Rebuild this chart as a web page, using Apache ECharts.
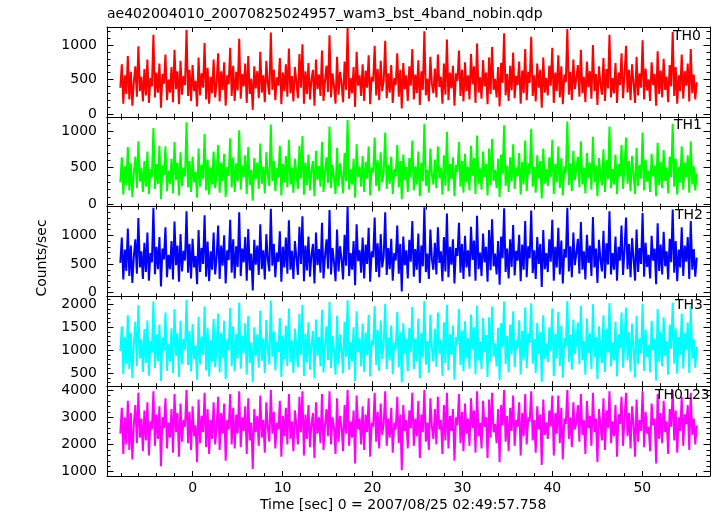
<!DOCTYPE html>
<html><head><meta charset="utf-8">
<script src="https://cdn.jsdelivr.net/npm/echarts@6/dist/echarts.min.js"></script>
<style>html,body{margin:0;padding:0;background:#fff}#c{width:717px;height:516px}</style>
</head><body><div id="c"></div><script>
// ---------- data ----------
const chartTitle = 'ae402004010_20070825024957_wam3_bst_4band_nobin.qdp';
const xTitle = 'Time [sec] 0 = 2007/08/25 02:49:57.758';
const yTitle = 'Counts/sec';
const panelNames = ['TH0', 'TH1', 'TH2', 'TH3', 'TH0123'];
const panelColors = ['#ff0000', '#00ff00', '#0000ff', '#00ffff', '#ff00ff'];
const timeStart = -8.05;
const timeEnd = 56.06;

const th0 = [
380,720,150,560,290,840,210,610,120,470,690,250,980,330,540,180,
650,270,790,160,520,400,1150,240,600,310,730,90,580,440,860,200,
500,310,680,170,930,360,620,140,770,280,550,420,1220,260,640,190,
710,330,480,110,820,270,590,380,1030,210,670,150,540,300,790,240,
460,880,180,620,350,750,120,560,430,960,260,700,190,610,340,1090,
220,580,400,730,160,840,290,510,60,690,370,620,230,900,310,560,
170,770,440,280,1180,350,640,200,530,410,810,140,600,330,720,250,
950,300,550,180,680,460,230,870,380,1010,150,620,290,740,210,500,
640,120,790,360,570,260,920,190,480,700,320,1140,240,590,400,150,
830,280,610,440,170,760,350,1250,220,520,300,680,100,900,410,560,
260,720,190,630,380,850,140,540,470,990,270,650,200,770,330,480,
1060,230,590,310,710,160,520,420,880,250,640,80,740,360,560,190,
690,410,940,210,570,300,780,130,620,350,1200,270,510,180,830,440,
300,660,240,860,390,540,150,730,280,1080,200,600,370,700,120,590,
480,920,260,640,180,750,330,560,210,870,430,690,160,1020,310,530,
220,780,400,600,140,820,290,970,350,510,240,680,110,740,450,1170,
270,580,190,700,340,890,230,550,420,760,150,630,300,940,200,610,
450,1120,260,560,180,730,380,640,90,820,310,520,270,700,410,960,
160,600,330,850,240,690,140,570,460,1230,280,610,200,790,360,520,
710,250,930,300,540,170,760,390,620,220,1000,330,580,130,690,440,
280,810,190,650,370,1150,240,520,300,740,160,600,420,880,230,570,
990,310,640,200,720,450,160,830,270,590,380,1070,210,660,340,500,
190,750,420,580,120,910,290,630,240,800,350,540,170,710,400,1190,
260,680,150,560,330,860,220,620,410,730,180,940,300,570,210,460];

const th1 = [
300,640,130,520,260,780,190,560,100,430,650,220,860,310,490,170,
590,240,720,140,480,370,1040,210,550,280,800,70,530,400,790,180,
460,280,620,150,850,330,570,120,710,250,500,380,1120,230,590,170,
650,300,440,90,760,240,540,350,960,190,610,130,500,270,720,220,
420,810,160,570,320,690,100,510,390,900,230,640,170,560,310,1010,
200,530,370,670,140,780,260,470,50,630,340,570,210,830,280,510,
150,710,400,250,1090,320,590,180,490,370,800,120,550,300,660,230,
880,270,500,160,620,420,210,800,350,930,130,570,260,680,190,460,
590,110,730,330,520,240,850,170,440,640,290,1060,220,540,360,140,
770,250,560,400,150,700,320,1150,200,480,270,620,90,820,370,510,
240,660,170,580,350,790,120,500,430,910,250,600,180,710,300,440,
980,210,540,280,650,140,480,380,810,230,590,70,680,330,510,170,
630,370,870,190,520,270,720,110,570,320,1100,250,470,160,760,400,
270,610,220,790,360,500,130,670,250,990,180,550,340,640,110,540,
440,850,240,590,160,690,300,510,190,800,390,630,140,940,280,490,
200,720,370,550,120,760,260,890,320,470,220,620,100,680,410,1080,
250,530,170,640,310,820,210,500,380,700,130,580,270,870,180,560,
410,1030,240,510,160,670,350,590,80,760,280,480,250,640,370,880,
140,550,300,790,220,630,120,520,420,1130,260,560,180,730,330,480,
650,230,860,270,500,150,700,360,570,200,920,300,530,110,630,400,
260,750,170,600,340,1060,220,480,270,680,140,550,380,810,210,520,
910,280,590,180,660,410,140,770,250,540,350,980,190,610,310,460,
170,690,380,530,110,840,260,580,220,740,320,500,150,650,370,1100,
240,620,130,510,300,790,200,570,370,670,160,860,270,520,190,420];

const th2 = [
520,960,230,750,380,1120,290,820,170,640,930,330,1300,440,720,240,
870,360,1050,210,690,530,1480,320,800,410,970,110,770,580,1140,270,
660,410,900,230,1240,480,820,190,1020,370,730,560,1420,350,850,250,
940,440,640,150,1090,360,780,500,1350,280,890,200,720,400,1050,320,
610,1170,240,820,470,1000,160,740,570,1270,350,930,250,810,450,1400,
290,770,530,970,210,1110,390,680,40,920,490,820,310,1190,410,740,
230,1020,580,370,1460,470,850,270,700,540,1070,190,800,440,960,330,
1260,400,730,240,900,610,310,1150,500,1330,200,820,390,980,280,660,
850,160,1050,480,760,350,1220,250,640,930,420,1440,320,780,530,200,
1100,370,810,580,230,1010,470,1500,290,690,400,900,130,1190,550,740,
350,960,250,840,500,1130,190,720,620,1310,360,860,270,1020,440,640,
1400,310,780,410,940,210,690,560,1170,330,850,20,980,480,740,250,
920,540,1250,280,760,400,1030,170,820,460,1490,360,680,240,1100,580,
400,870,320,1140,520,720,200,970,370,1380,270,800,490,930,160,780,
640,1220,350,850,240,990,440,740,280,1150,570,910,210,1340,410,700,
290,1030,530,800,190,1090,390,1280,460,680,320,900,140,980,600,1470,
360,770,250,930,450,1180,300,730,560,1010,200,840,400,1250,270,810,
600,1430,340,740,240,970,500,850,100,1090,410,690,360,930,540,1270,
210,800,440,1130,320,910,160,760,610,1480,370,810,270,1050,480,690,
940,330,1230,400,720,230,1010,520,820,290,1320,440,770,170,920,580,
370,1080,250,860,490,1420,320,690,400,980,210,800,560,1170,310,760,
1310,410,850,270,950,600,210,1100,360,780,500,1390,280,870,450,660,
250,990,560,770,150,1210,380,840,320,1060,460,720,230,940,530,1450,
350,900,200,750,440,1140,290,820,540,970,240,1250,400,760,280,610];

const th3 = [
980,1520,480,1290,700,1760,590,1380,400,1150,1620,660,1980,820,1240,530,
1460,720,1650,450,1200,950,2060,610,1350,760,1560,330,1280,990,1820,550,
1130,760,1480,500,1900,880,1370,420,1640,700,1250,1010,2100,680,1420,540,
1570,800,1110,360,1730,690,1300,900,1950,560,1480,430,1220,750,1680,630,
1060,1800,520,1380,830,1640,370,1240,1000,1920,650,1520,540,1360,820,2040,
600,1310,940,1590,470,1750,720,1170,300,1500,880,1350,620,1860,770,1260,
500,1660,1010,690,2080,860,1410,560,1190,960,1700,420,1320,800,1540,660,
1910,740,1220,510,1470,1100,630,1790,900,1990,440,1360,730,1610,580,1110,
1420,390,1670,870,1290,650,1880,520,1100,1520,790,2050,610,1310,980,470,
1750,690,1340,1030,500,1620,860,2090,580,1180,760,1500,330,1850,960,1260,
650,1580,530,1390,890,1770,430,1210,1120,1960,680,1440,550,1650,810,1140,
2010,590,1280,780,1540,480,1170,1020,1830,630,1390,300,1590,920,1250,540,
1490,970,1940,590,1260,760,1690,390,1380,850,2070,690,1200,510,1770,1050,
750,1470,640,1820,930,1240,450,1610,720,1990,560,1350,900,1540,360,1290,
1120,1900,680,1430,540,1630,830,1270,600,1780,1020,1500,480,1970,780,1190,
590,1700,960,1330,420,1720,750,1950,860,1150,650,1490,350,1590,1070,2060,
700,1310,520,1560,910,1850,630,1220,1040,1650,470,1420,780,1930,610,1370,
1160,2020,710,1240,500,1600,920,1400,310,1760,810,1150,740,1500,990,1910,
440,1360,830,1840,660,1540,400,1270,1080,2070,740,1330,580,1670,920,1180,
1610,690,1970,790,1200,470,1690,940,1370,590,2000,850,1290,370,1520,1010,
720,1760,530,1470,950,2030,650,1170,780,1620,430,1340,1040,1820,620,1230,
1930,780,1390,540,1580,1060,410,1750,700,1260,930,2010,550,1450,850,1120,
520,1640,1000,1250,340,1900,750,1410,650,1720,880,1200,470,1560,1030,2040,
710,1480,490,1290,900,1800,600,1380,1010,1610,510,1960,820,1240,620,1070];

const th0123 = [
2400,3350,1650,3000,2000,3600,1800,3150,1450,2750,3450,2050,3900,2250,2950,1750,
3250,2150,3550,1600,2850,2550,3950,1950,3100,2200,3400,1200,3000,2600,3700,1850,
2800,2250,3300,1700,3850,2450,3150,1550,3500,2100,2900,2650,4000,2050,3200,1800,
3400,2300,2700,1350,3650,2050,3050,2450,3900,1900,3300,1650,2900,2200,3550,2000,
2650,3750,1800,3150,2400,3500,1400,2900,2550,3850,2000,3350,1850,3100,2400,3950,
1900,3000,2500,3400,1650,3700,2150,2800,1100,3300,2450,3050,1950,3800,2250,2900,
1700,3550,2600,2100,4000,2400,3200,1850,2800,2550,3600,1550,3050,2300,3350,2000,
3850,2200,2850,1750,3250,2700,2000,3750,2450,3950,1600,3100,2200,3450,1900,2750,
3150,1500,3550,2400,3000,2050,3850,1800,2700,3300,2300,3950,2000,3000,2600,1650,
3700,2100,3050,2650,1750,3450,2400,4000,1950,2850,2250,3250,1300,3800,2550,2950,
2000,3400,1800,3100,2450,3700,1550,2800,2650,3900,2100,3200,1850,3500,2350,2750,
3950,1950,2950,2250,3350,1700,2800,2550,3750,2050,3100,1050,3450,2500,2900,1850,
3250,2600,3900,1950,2950,2300,3600,1500,3100,2450,4000,2100,2800,1800,3700,2650,
2200,3300,2000,3750,2550,2900,1650,3450,2150,3900,1850,3050,2500,3300,1400,3000,
2700,3850,2050,3200,1750,3500,2400,2950,1950,3700,2600,3250,1700,3950,2300,2800,
1850,3600,2650,3000,1500,3650,2250,3900,2450,2750,2050,3300,1350,3450,2700,4000,
2100,3050,1750,3350,2500,3800,1950,2900,2650,3550,1600,3150,2300,3850,2000,3000,
2850,3950,2150,2900,1700,3400,2550,3100,1250,3650,2350,2800,2200,3250,2650,3800,
1600,3150,2400,3800,2050,3350,1450,2950,2750,4000,2200,3000,1900,3550,2550,2800,
3450,2100,3850,2350,2900,1650,3600,2600,3050,1950,3900,2450,2950,1350,3300,2700,
2150,3700,1800,3250,2600,3950,2050,2850,2300,3450,1550,3100,2750,3750,1950,2950,
3900,2300,3150,1850,3400,2750,1550,3650,2100,2900,2500,3950,1900,3200,2400,2650,
1750,3500,2700,2950,1300,3850,2200,3150,2050,3600,2450,2850,1650,3300,2650,4000,
2150,3250,1700,3000,2500,3750,1950,3100,2750,3450,1800,3900,2350,2950,2000,2700];

const xMajorTicks = [0, 10, 20, 30, 40, 50];
const yMajorTicks = [
  [0, 500, 1000],
  [0, 500, 1000],
  [0, 500, 1000],
  [500, 1000, 1500, 2000],
  [1000, 2000, 3000, 4000]
];
const yMinorStep = [100, 100, 100, 100, 200];

// ---------- layout ----------
const FONT = 'DejaVu Sans';
const gridLeft = 107, gridWidth = 603, gridHeight = 89.8;
const gridTops = [27, 116.8, 206.6, 296.4, 386.2];
const xMin = -9.53, xMax = 57.53;
const yRanges = [[-41, 1261], [-31, 1194], [-64, 1500], [220, 2172], [842, 4140]];
const labelLeft = [673, 674, 675, 675, 655];

const seriesValues = [th0, th1, th2, th3, th0123];

function ticksBetween(lo, hi, step) {
  const out = [];
  for (let v = Math.ceil(lo / step) * step; v <= hi; v += step) out.push(v);
  return out;
}
const xMinorTicks = ticksBetween(-8, 56, 2);

const black = { color: '#000', width: 1 };
const plain = v => String(v);
const grids = [], xAxes = [], yAxes = [], series = [], graphics = [];

function xAxis(i, pos, ticks, len, showLine, showLabel) {
  return {
    type: 'value', gridIndex: i, position: pos, min: xMin, max: xMax,
    axisLine: { show: showLine, onZero: false, lineStyle: black },
    axisTick: { show: true, inside: true, length: len, customValues: ticks, lineStyle: black },
    axisLabel: { show: showLabel, customValues: ticks, formatter: plain, margin: 5, color: '#000', fontSize: 14, fontFamily: FONT },
    splitLine: { show: false }, minorTick: { show: false }
  };
}
function yAxis(i, pos, ticks, len, showLine, showLabel) {
  return {
    type: 'value', gridIndex: i, position: pos, min: yRanges[i][0], max: yRanges[i][1],
    axisLine: { show: showLine, onZero: false, lineStyle: black },
    axisTick: { show: true, inside: true, length: len, customValues: ticks, lineStyle: black },
    axisLabel: { show: showLabel, customValues: ticks, formatter: plain, margin: 10, color: '#000', fontSize: 14, fontFamily: FONT },
    splitLine: { show: false }, minorTick: { show: false }
  };
}

for (let i = 0; i < 5; i++) {
  grids.push({ left: gridLeft, top: gridTops[i], width: gridWidth, height: gridHeight, containLabel: false, outerBoundsMode: 'none' });
  const last = i === 4;
  xAxes.push(xAxis(i, 'bottom', xMajorTicks, 5, true, last));
  xAxes.push(xAxis(i, 'bottom', xMinorTicks, 3, false, false));
  xAxes.push(xAxis(i, 'top', xMajorTicks, 5, true, false));
  xAxes.push(xAxis(i, 'top', xMinorTicks, 3, false, false));
  const minor = ticksBetween(yRanges[i][0], yRanges[i][1], yMinorStep[i]);
  yAxes.push(yAxis(i, 'left', yMajorTicks[i], 6.5, true, true));
  yAxes.push(yAxis(i, 'left', minor, 3.5, false, false));
  yAxes.push(yAxis(i, 'right', yMajorTicks[i], 6.5, true, false));
  yAxes.push(yAxis(i, 'right', minor, 3.5, false, false));

  const vals = seriesValues[i];
  const n = vals.length;
  const data = vals.map((v, k) => [timeStart + (timeEnd - timeStart) * k / (n - 1), v]);
  series.push({
    type: 'line', name: panelNames[i], xAxisIndex: i * 4, yAxisIndex: i * 4,
    data: data, showSymbol: false, symbol: 'none', clip: true,
    lineStyle: { color: panelColors[i], width: 2, join: 'miter', miterLimit: 1 }, itemStyle: { color: panelColors[i] },
    emphasis: { disabled: true }, silent: true, z: 1
  });
  graphics.push({
    type: 'text', x: labelLeft[i], y: gridTops[i] + 2, z: 100,
    style: { text: panelNames[i], font: '14px "DejaVu Sans"', fill: '#000', textAlign: 'left', textVerticalAlign: 'top', align: 'left', verticalAlign: 'top' }
  });
}

graphics.push({
  type: 'text', x: 107, y: 7, z: 100,
  style: { text: chartTitle, font: '14px "DejaVu Sans"', fill: '#000', textAlign: 'left', textVerticalAlign: 'top', align: 'left', verticalAlign: 'top' }
});
graphics.push({
  type: 'text', x: 260, y: 498, z: 100,
  style: { text: xTitle, font: '14px "DejaVu Sans"', fill: '#000', textAlign: 'left', textVerticalAlign: 'top', align: 'left', verticalAlign: 'top' }
});
graphics.push({
  type: 'text', x: 42, y: 258, rotation: Math.PI / 2, z: 100,
  style: { text: yTitle, font: '14px "DejaVu Sans"', fill: '#000', textAlign: 'center', textVerticalAlign: 'middle', align: 'center', verticalAlign: 'middle' }
});

const chart = echarts.init(document.getElementById('c'), null, { renderer: 'canvas' });
chart.setOption({
  animation: false,
  backgroundColor: '#fff',
  grid: grids,
  xAxis: xAxes,
  yAxis: yAxes,
  series: series,
  graphic: graphics
});
</script></body></html>
